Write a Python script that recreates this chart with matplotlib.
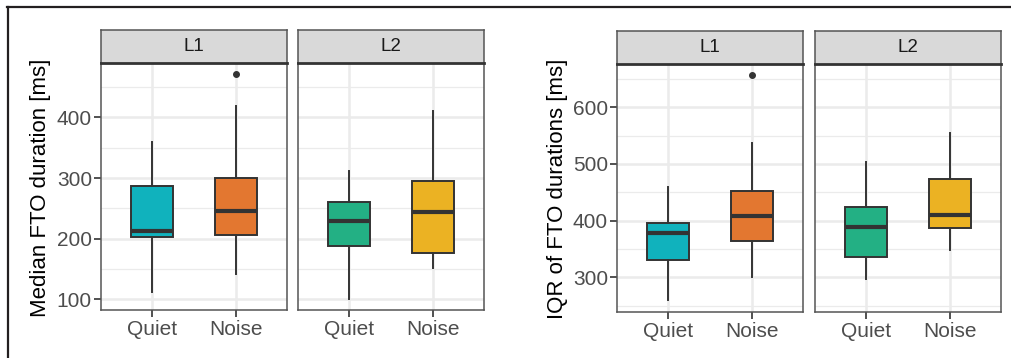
import matplotlib
matplotlib.use("Agg")
import matplotlib.pyplot as plt
from matplotlib.lines import Line2D

W, H = 1011, 358

FILL_COLORS = ["#10B2BD", "#E37730", "#23B084", "#EBB223"]
EDGE = "#333333"
GRID = "#EBEBEB"
STRIP_BG = "#D9D9D9"
TICK_TEXT = "#4D4D4D"

plt.rcParams["font.family"] = ["Liberation Sans", "DejaVu Sans"]

categories = ["Quiet", "Noise"]
panels = ["L1", "L2"]

# order: L1 Quiet, L1 Noise, L2 Quiet, L2 Noise
median_whislo = [112, 141, 100, 152]
median_q1 = [203, 206, 187, 176]
median_med = [212, 245, 229, 244]
median_q3 = [287, 300, 261, 295]
median_whishi = [359, 419, 312, 411]
median_fliers = [[], [472], [], []]

iqr_whislo = [261, 300, 297, 348]
iqr_q1 = [330, 364, 336, 387]
iqr_med = [378, 409, 389, 410]
iqr_q3 = [396, 453, 424, 473]
iqr_whishi = [460, 536, 503, 554]
iqr_fliers = [[], [656], [], []]


def rect(x0, x1, y0, y1):
    return [x0 / W, 1 - y1 / H, (x1 - x0) / W, (y1 - y0) / H]


def draw_group(fig, xs, y_top, y_bot, strip_top, stats, ylim, major, minor, ylabel, label_x):
    axes = []
    for p, (x0, x1) in enumerate(xs):
        ax = fig.add_axes(rect(x0, x1, y_top, y_bot))
        idx = [2 * p, 2 * p + 1]
        bxp_stats = []
        for i, cat in zip(idx, categories):
            bxp_stats.append({
                "whislo": stats[0][i], "q1": stats[1][i], "med": stats[2][i],
                "q3": stats[3][i], "whishi": stats[4][i], "fliers": stats[5][i],
                "label": cat,
            })
        parts = ax.bxp(
            bxp_stats, positions=[1, 2], widths=0.5, patch_artist=True,
            showcaps=False,
            boxprops=dict(edgecolor=EDGE, linewidth=1.4),
            whiskerprops=dict(color=EDGE, linewidth=1.4),
            medianprops=dict(color=EDGE, linewidth=3.0, solid_capstyle="butt"),
            flierprops=dict(marker="o", markersize=4, markerfacecolor=EDGE,
                            markeredgecolor=EDGE),
            zorder=3,
        )
        for box, i in zip(parts["boxes"], idx):
            box.set_facecolor(FILL_COLORS[i])
        ax.set_xlim(0.4, 2.6)
        ax.set_ylim(*ylim)
        ax.set_yticks(major)
        ax.set_yticks(minor, minor=True)
        ax.set_xticks([1, 2])
        ax.set_xticklabels(categories)
        ax.grid(which="major", color=GRID, linewidth=1.8, zorder=0)
        ax.grid(which="minor", axis="y", color=GRID, linewidth=0.9, zorder=0)
        ax.set_axisbelow(True)
        ax.tick_params(axis="both", which="major", length=5, width=1.2,
                       color=EDGE, labelsize=15, labelcolor=TICK_TEXT)
        ax.tick_params(axis="x", pad=2.5)
        ax.tick_params(axis="y", pad=1.5)
        ax.tick_params(which="minor", length=0)
        for s in ax.spines.values():
            s.set_color("#555555")
            s.set_linewidth(1.1)
        if p > 0:
            ax.tick_params(axis="y", left=False, labelleft=False)

        sx = fig.add_axes(rect(x0, x1, strip_top, y_top))
        sx.set_facecolor(STRIP_BG)
        sx.set_xticks([])
        sx.set_yticks([])
        for s in sx.spines.values():
            s.set_color("#555555")
            s.set_linewidth(1.1)
        sx.spines["bottom"].set_color(EDGE)
        sx.spines["bottom"].set_linewidth(2.0)
        sx.text(0.5, 0.5, panels[p], ha="center", va="center",
                fontsize=13.5, color="#1A1A1A", transform=sx.transAxes)
        axes.append(ax)

    fig.text(label_x / W, 1 - (y_top + 2 + y_bot) / 2 / H, ylabel, rotation=90,
             ha="center", va="center", fontsize=16, color="black")
    return axes


fig = plt.figure(figsize=(W / 100, H / 100), dpi=100)

draw_group(
    fig, [(101, 287), (298, 484)], 63, 310, 30,
    [median_whislo, median_q1, median_med, median_q3, median_whishi, median_fliers],
    (82, 490), [100, 200, 300, 400], [150, 250, 350, 450],
    "Median FTO duration [ms]", 41,
)
draw_group(
    fig, [(617, 803), (815, 1001)], 64, 311.5, 31,
    [iqr_whislo, iqr_q1, iqr_med, iqr_q3, iqr_whishi, iqr_fliers],
    (240, 676), [300, 400, 500, 600], [250, 350, 450, 550, 650],
    "IQR of FTO durations [ms]", 557,
)

# outer frame (top and left edges)
fig.add_artist(Line2D([7 / W, 1], [1 - 6.5 / H, 1 - 6.5 / H], color="#231F20",
                      linewidth=1.6, transform=fig.transFigure))
fig.add_artist(Line2D([7.5 / W, 7.5 / W], [0, 1 - 6.5 / H], color="#231F20",
                      linewidth=1.6, transform=fig.transFigure))

fig.savefig("out.png", dpi=100)
